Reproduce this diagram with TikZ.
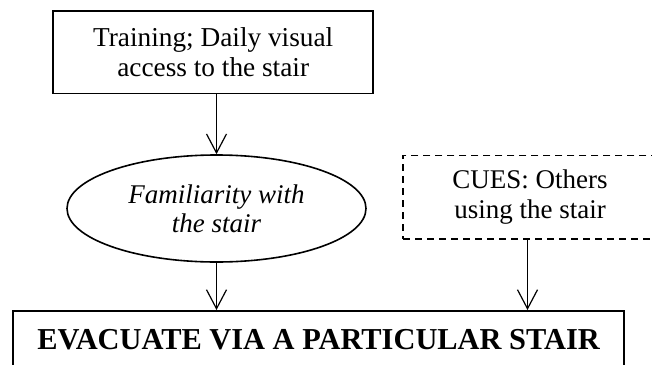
\documentclass[tikz,border=0pt]{standalone}
\usepackage{fontspec}
\setmainfont{Liberation Serif}
\usetikzlibrary{arrows.meta,shapes.geometric}

\tikzset{
  solidbox/.style={draw, line width=1.8pt, inner sep=0pt, align=center},
  cuebox/.style={draw, line width=1.4pt, dash pattern=on 7pt off 5pt,
                 inner sep=0pt, align=center},
  ovalnode/.style={draw, ellipse, line width=1.6pt, inner sep=0pt, align=center},
  flow/.style={line width=1.2pt,
               -{Straight Barb[length=19pt,width=20pt,line width=1.2pt]}},
}

\begin{document}
\begin{tikzpicture}[x=1pt,y=-1pt]
  \useasboundingbox (0,0) rectangle (652,364);
  \clip (0,0) rectangle (652,364);

  % source: training / visual access
  \node[solidbox, minimum width=320, minimum height=82.5,
        font=\fontsize{27.3}{30}\selectfont]
    (train) at (213.2,52.2) {Training; Daily visual\\access to the stair};

  % intermediate state
  \node[ovalnode, minimum width=299, minimum height=107,
        font=\fontsize{27}{29}\selectfont\itshape]
    (famil) at (216.5,208.5) {Familiarity with\\the stair};

  % external cue (box runs past the right edge)
  \node[cuebox, minimum width=254, minimum height=83.3,
        font=\fontsize{27}{30}\selectfont]
    (cues) at (530,197.4) {CUES: Others\\using the stair};

  % outcome (box runs past the bottom edge)
  \node[solidbox, anchor=north, minimum width=610.7,
        text height=39pt, text depth=30pt,
        font=\fontsize{30.4}{33}\selectfont\bfseries]
    (evac) at (318.7,310) {EVACUATE VIA A PARTICULAR STAIR};

  \coordinate (cuefoot) at ([xshift=-2.5pt]cues.south);

  \draw[flow] (famil.north |- train.south) -- (famil.north);
  \draw[flow] (famil.south) -- (famil.south |- evac.north);
  \draw[flow] (cuefoot) -- (cuefoot |- evac.north);
\end{tikzpicture}
\end{document}
